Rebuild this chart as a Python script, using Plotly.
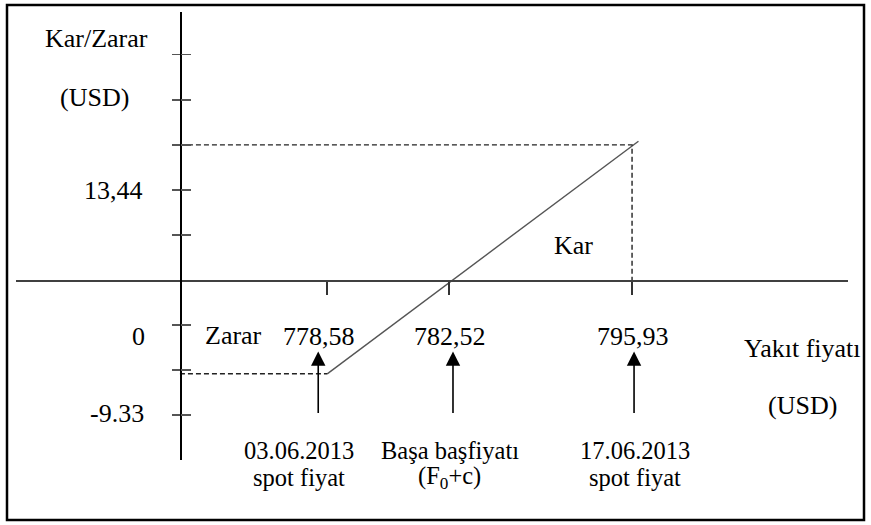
import plotly.graph_objects as go

W, H = 871, 525

# ---------------- data ----------------
breakeven_price = 782.52
tick_prices = [773.6, 782.52, 795.93]            # price-axis ticks as drawn
tick_labels = ["778,58", "782,52", "795,93"]
caption_top = ["03.06.2013", "Başa başfiyatı", "17.06.2013"]
caption_bottom = ["spot fiyat", "(F<sub>0</sub>+c)", "spot fiyat"]

line_price = [773.6, 796.4]                       # profit / loss line
line_pnl = [-9.33, 13.8]

profit_price = 795.93
profit_level = 13.44
loss_price = 773.6
loss_level = -9.33

y_ticks = [-13.44, -8.96, -4.48, 4.48, 8.96, 13.44, 17.92, 22.4]
y_labels = ["13,44", "0", "-9.33"]

# ---------------- layout constants ----------------
x_range = [750.8, 811.75]
y_range = [-17.9, 26.65]
y_axis_price = 762.81          # where the vertical axis crosses the price axis

FAMILY = "Liberation Serif, Times New Roman, serif"
FONT = dict(family=FAMILY, size=26, color="#000000")
CAP_FONT = dict(family=FAMILY, size=24.5, color="#000000")


def X(px):
    return px / W


def Y(py):
    return 1 - py / H


annotations = []


def text(s, x, y, xanchor="center", font=FONT):
    annotations.append(dict(text=s, x=X(x), y=Y(y), xref="paper", yref="paper",
                            xanchor=xanchor, yanchor="middle", showarrow=False,
                            borderpad=0, font=font))


text("Kar/Zarar", 96, 38)
text("(USD)", 94.5, 97)
for lab, yy, rx in zip(y_labels, [190, 336, 413.5], [144, 146, 145]):
    text(lab, rx, yy, "right")
text("Zarar", 233.5, 335)
for lab, cx in zip(tick_labels, [319, 450, 633]):
    text(lab, cx, 336)
text("Kar", 573.5, 245)
text("Yakıt fiyatı", 802, 348)
text("(USD)", 802.5, 405)
for top, bot, cx in zip(caption_top, caption_bottom, [299, 450, 635]):
    text(top, cx, 450, font=CAP_FONT)
    text(bot, cx, 477.5, font=CAP_FONT)

# arrows pointing up to the price labels
for price, dx in zip(tick_prices, [-9, 4, 2]):
    annotations.append(dict(x=price, y=-7.1, xref="x", yref="y", text="",
                            showarrow=True, arrowhead=2, arrowsize=1.8,
                            arrowwidth=1.6, arrowcolor="#000000",
                            ax=0, ay=63, xshift=dx))

fig = go.Figure()

fig.add_trace(go.Scatter(x=line_price, y=line_pnl, mode="lines",
                         line=dict(color="#555555", width=1.4),
                         hoverinfo="skip", showlegend=False))
fig.add_trace(go.Scatter(x=[y_axis_price, profit_price, profit_price],
                         y=[profit_level, profit_level, 0], mode="lines",
                         line=dict(color="#222222", width=1.4, dash="5px,3px"),
                         yaxis="y2", hoverinfo="skip", showlegend=False))
fig.add_trace(go.Scatter(x=[y_axis_price, loss_price],
                         y=[loss_level, loss_level], mode="lines",
                         line=dict(color="#222222", width=1.4, dash="5px,3px"),
                         yaxis="y2", hoverinfo="skip", showlegend=False))

fig.update_layout(
    width=W, height=H, autosize=False,
    margin=dict(l=0, r=0, t=0, b=0),
    paper_bgcolor="white", plot_bgcolor="white",
    showlegend=False,
    xaxis=dict(domain=[16 / W, 848 / W], range=x_range, anchor="free",
               position=Y(280), showline=True, linecolor="#404040", linewidth=1.6,
               ticks="outside", ticklen=13, tickwidth=1.5, tickcolor="#333333",
               tickvals=tick_prices, showticklabels=False, showgrid=False,
               zeroline=False, fixedrange=True),
    yaxis=dict(domain=[Y(460), Y(12)], range=y_range, anchor="free",
               position=X(180), showline=True, linecolor="#000000", linewidth=1.6,
               ticks="outside", ticklen=8, tickwidth=1.5, tickcolor="#555555",
               tickvals=y_ticks, showticklabels=False, showgrid=False,
               zeroline=False, fixedrange=True),
    yaxis2=dict(overlaying="y", range=y_range, anchor="free", position=X(180),
                showline=False, ticks="inside", ticklen=10, tickwidth=1.5,
                tickcolor="#555555", tickvals=y_ticks, showticklabels=False,
                showgrid=False, zeroline=False, fixedrange=True),
    annotations=annotations,
    shapes=[dict(type="rect", xref="paper", yref="paper",
                 x0=X(7), x1=X(864), y0=Y(520), y1=Y(5),
                 line=dict(color="#000000", width=2.5))],
)

fig.write_html("out.html",
               config={"displayModeBar": False, "staticPlot": True},
               post_script="document.body.style.margin='0';"
                           "document.body.style.overflow='hidden';")
